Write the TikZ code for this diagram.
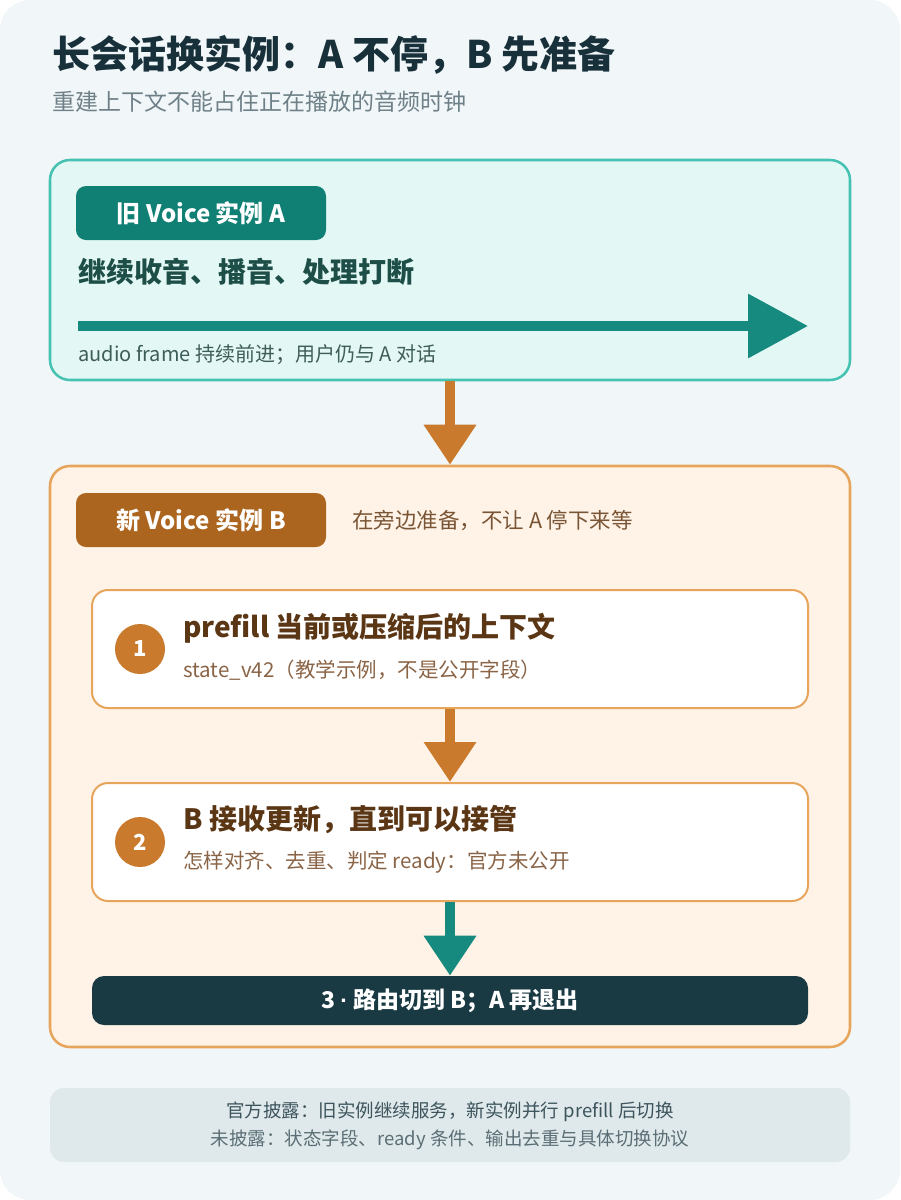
\documentclass[tikz,border=0pt]{standalone}
\usepackage{fontspec}
\setmainfont{Noto Sans CJK SC}
\newfontfamily\dotfont{Liberation Sans}
\usetikzlibrary{arrows.meta,positioning}

\definecolor{bgC}{HTML}{F1F6F8}
\definecolor{titleC}{HTML}{17303A}
\definecolor{subC}{HTML}{6E8088}
\definecolor{fillA}{HTML}{E3F8F4}
\definecolor{borderA}{HTML}{45C2B1}
\definecolor{tagA}{HTML}{107F74}
\definecolor{textA}{HTML}{1E4E48}
\definecolor{arrowA}{HTML}{168A7E}
\definecolor{noteA}{HTML}{3E5C58}
\definecolor{orangeC}{HTML}{C97A2C}
\definecolor{fillB}{HTML}{FFF3E7}
\definecolor{borderB}{HTML}{E6A55B}
\definecolor{tagB}{HTML}{AC651F}
\definecolor{sideB}{HTML}{7A5535}
\definecolor{stepT}{HTML}{5A3614}
\definecolor{stepS}{HTML}{8A6446}
\definecolor{darkC}{HTML}{193943}
\definecolor{footC}{HTML}{DFE9EB}
\definecolor{footT}{HTML}{3D545D}
\definecolor{footS}{HTML}{5B6E75}

\newcommand\pxsize[1]{\fontsize{\fpeval{0.75*#1}pt}{\fpeval{0.9*#1}pt}\selectfont}

\begin{document}
\begin{tikzpicture}[x=0.75pt,y=-0.75pt,
   panel/.style={draw,rounded corners=15pt,line width=1.9pt,minimum width=600pt},
   tag/.style={rounded corners=7.5pt,minimum width=187.5pt,minimum height=40.5pt,text=white,font=\pxsize{24}\bfseries},
   stepbox/.style={draw=borderB,fill=white,line width=1.5pt,rounded corners=12pt,minimum width=537pt,minimum height=88.5pt},
   num/.style={circle,fill=orangeC,minimum size=37.5pt,inner sep=0pt,text=white,font=\pxsize{22}\bfseries},
   plain/.style={anchor=west,inner sep=0pt},
   flow/.style={line width=7.5pt,-{Triangle[length=30pt,width=37.5pt]}}]
   \fill[bgC,rounded corners=22.5pt] (0,0) rectangle (900,1200);
   \useasboundingbox (0,0) rectangle (900,1200);

   \node [plain,font=\pxsize{38}\bfseries,text=titleC] (title) at (52,55) {长会话换实例：A 不停，B 先准备};
   \node [plain,font=\pxsize{23},text=subC] (subtitle) at (52,102) {重建上下文不能占住正在播放的音频时钟};

   % old instance A
   \node [panel,draw=borderA,fill=fillA,minimum height=165pt] (box_a) at (450,270) {};
   \node [tag,fill=tagA] (tag_a) at (201,213) {旧 Voice 实例 A};
   \node [plain,font=\pxsize{28}\bfseries,text=textA] (keep_a) at (78,272) {继续收音、播音、处理打断};
   \coordinate (run_s) at (78,326);
   \coordinate (run_e) at (808,326);
   \draw [line width=7.5pt,arrowA,-{Triangle[length=45pt,width=46.5pt]}] (run_s) -- (run_e);
   \node [plain,font=\pxsize{20},text=noteA] (frame_a) at (78,355) {audio frame 持续前进；用户仍与 A 对话};

   % new instance B
   \node [panel,draw=borderB,fill=fillB,minimum height=435.75pt] (box_b) at (450,756.5) {};
   \node [tag,fill=tagB] (tag_b) at (201,520) {新 Voice 实例 B};
   \node [plain,font=\pxsize{21.5},text=sideB] (side_b) at (352,521) {在旁边准备，不让 A 停下来等};

   \node [stepbox] (step_1) at (450,649) {};
   \node [num] (num_1) at (140,649) {1};
   \node [plain,font=\pxsize{28}\bfseries,text=stepT] (head_1) at (183,628) {prefill 当前或压缩后的上下文};
   \node [plain,font=\pxsize{20.5},text=stepS] (note_1) at (183,670) {state\_v42（教学示例，不是公开字段）};

   \node [stepbox] (step_2) at (450,842) {};
   \node [num] (num_2) at (140,842) {2};
   \node [plain,font=\pxsize{28}\bfseries,text=stepT] (head_2) at (183,820) {B 接收更新，直到可以接管};
   \node [plain,font=\pxsize{20.5},text=stepS] (note_2) at (183,862) {怎样对齐、去重、判定 ready：官方未公开};

   \node [fill=darkC,rounded corners=9pt,minimum width=537pt,minimum height=36.75pt,text=white,font=\pxsize{23}\bfseries] (route) at (450,1000.5) {3 {\dotfont·} 路由切到 B；A 再退出};

   \draw [flow,orangeC] (box_a) -- (box_b);
   \draw [flow,orangeC] (step_1) -- (step_2);
   \draw [flow,arrowA] (step_2) -- (route);

   % footer
   \node [fill=footC,rounded corners=10.5pt,minimum width=600pt,minimum height=55.5pt] (foot) at (450,1125) {};
   \node [font=\pxsize{18.5},text=footT,inner sep=0pt] (foot_1) at (450,1112) {官方披露：旧实例继续服务，新实例并行 prefill 后切换};
   \node [font=\pxsize{18.5},text=footS,inner sep=0pt] (foot_2) at (450,1140) {未披露：状态字段、ready 条件、输出去重与具体切换协议};
\end{tikzpicture}
\end{document}
